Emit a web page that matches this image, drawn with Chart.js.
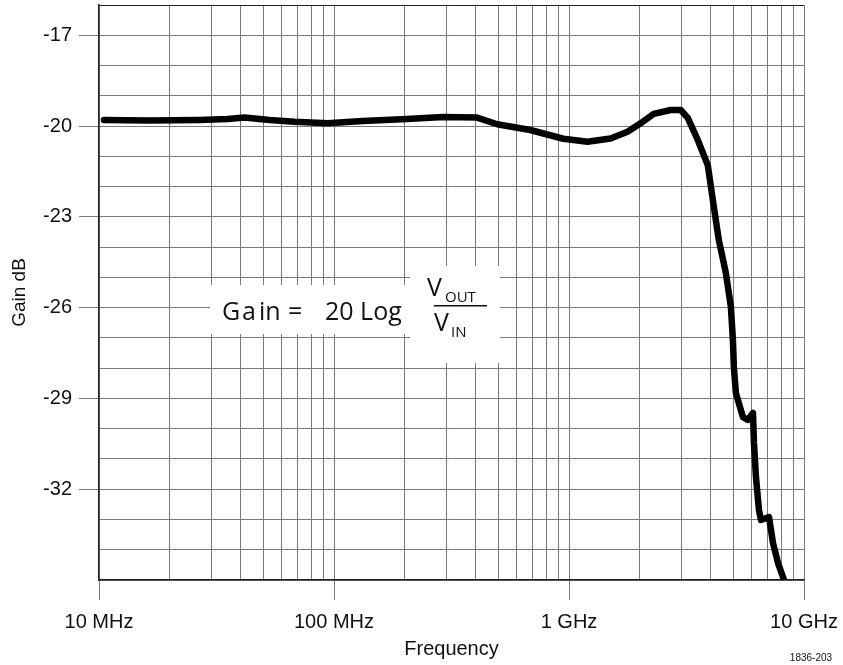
<!DOCTYPE html>
<html>
<head>
<meta charset="utf-8">
<script src="https://cdn.jsdelivr.net/npm/chart.js@4"></script>
<style>
  body { margin: 0; background: #fff; }
</style>
</head>
<body>
<canvas id="myChart" width="843" height="665"></canvas>
<script>
// frequency in MHz, gain in dB
var freqMHz = [10.5, 16.3, 26.7, 35.2, 41.6, 53.2, 68, 94, 132.6, 204, 291, 406, 495, 684, 946, 1198, 1502, 1775, 2017, 2292, 2709, 2989, 3202, 3532, 3897, 4134, 4342, 4651, 4886, 4983, 5030, 5130, 5497, 5774, 6066, 6124, 6246, 6433, 6560, 7096, 7381, 7753, 8226];
var gainDb = [-19.80, -19.82, -19.80, -19.77, -19.72, -19.80, -19.86, -19.91, -19.83, -19.77, -19.70, -19.72, -19.94, -20.13, -20.42, -20.52, -20.41, -20.19, -19.91, -19.60, -19.47, -19.47, -19.73, -20.46, -21.3, -22.67, -23.77, -24.86, -25.98, -27.07, -27.96, -28.82, -29.62, -29.71, -29.48, -30.47, -31.6, -32.69, -33.02, -32.92, -33.78, -34.44, -35.0];

var yLabels = [-17, -20, -23, -26, -29, -32];
var xLabels = {1e7: '10 MHz', 1e8: '100 MHz', 1e9: '1 GHz', 1e10: '10 GHz'};

var points = freqMHz.map(function (f, i) { return {x: f * 1e6, y: gainDb[i]}; });

var tickFont = {family: "'Liberation Sans Narrow', 'Liberation Sans', Arial, sans-serif", size: 20};
var gridGray = '#7a7a7a';

var formula = {
    id: 'formula',
    afterDraw: function (chart) {
        var c = chart.ctx;
        c.save();
        c.fillStyle = '#fff';
        c.fillRect(210, 285, 200, 49);
        c.fillRect(410, 266, 90, 97);
        c.fillStyle = '#111';
        c.textBaseline = 'alphabetic';
        c.font = "25px 'Open Sans', sans-serif";
        c.fillText('G', 222, 320);
        c.fillText('a', 242, 320);
        c.fillText('in', 259, 320);
        c.fillText('=', 288, 320);
        c.fillText('20 Log', 325, 320);
        c.fillText('V', 427, 296);
        c.fillText('V', 434, 331);
        c.font = "15px 'Open Sans', sans-serif";
        c.fillText('OUT', 445, 302);
        c.fillText('IN', 451, 337);
        c.fillRect(434, 305, 53, 1.5);
        c.font = "10px 'Liberation Sans Narrow', 'Liberation Sans', sans-serif";
        c.textAlign = 'center';
        c.fillText('1836-203', 811, 661);
        c.restore();
    }
};

var ctx = document.getElementById('myChart');
var myChart = new Chart(ctx, {
    type: 'line',
    data: {
        datasets: [{
            data: points,
            borderColor: '#000',
            borderWidth: 6.5,
            pointRadius: 0,
            tension: 0,
            borderJoinStyle: 'round',
            borderCapStyle: 'round'
        }]
    },
    plugins: [formula],
    options: {
        responsive: false,
        animation: false,
        layout: {padding: {left: 0, right: 39, top: 5, bottom: 0}},
        plugins: {legend: {display: false}, tooltip: {enabled: false}},
        scales: {
            x: {
                type: 'logarithmic',
                min: 1e7,
                max: 1e10,
                afterBuildTicks: function (s) {
                    var t = [];
                    [1e7, 1e8, 1e9].forEach(function (d) {
                        for (var k = 1; k < 10; k++) t.push({value: d * k});
                    });
                    t.push({value: 1e10});
                    s.ticks = t;
                },
                afterFit: function (s) {
                    s.height = 85;
                    s.paddingLeft = 0; s.paddingRight = 0;
                },
                ticks: {
                    autoSkip: false,
                    maxRotation: 0,
                    padding: 10,
                    color: '#111',
                    font: tickFont,
                    callback: function (v) { return xLabels[v] || ''; }
                },
                grid: {
                    color: gridGray,
                    lineWidth: 1,
                    tickLength: 20,
                    tickColor: function (c) { return xLabels[c.tick.value] ? gridGray : 'rgba(0,0,0,0)'; }
                },
                border: {color: '#222', width: 1.5},
                title: {
                    display: true,
                    text: 'Frequency',
                    color: '#111',
                    font: {family: tickFont.family, size: 20},
                    padding: {top: 0, bottom: 4}
                }
            },
            y: {
                min: -35,
                max: -16,
                afterBuildTicks: function (s) {
                    var t = [];
                    for (var v = -35; v <= -16; v++) t.push({value: v});
                    s.ticks = t;
                },
                afterFit: function (s) {
                    s.width = 99;
                    s.paddingTop = 0; s.paddingBottom = 0;
                },
                ticks: {
                    autoSkip: false,
                    padding: 7,
                    color: '#111',
                    font: tickFont,
                    callback: function (v) { return yLabels.indexOf(v) >= 0 ? String(v) : ''; }
                },
                grid: {
                    color: function (c) { return c.tick && c.tick.value === -16 ? '#222' : gridGray; },
                    lineWidth: 1,
                    tickLength: 20,
                    tickColor: function (c) { return yLabels.indexOf(c.tick.value) >= 0 ? gridGray : 'rgba(0,0,0,0)'; }
                },
                border: {color: '#222', width: 1.5},
                title: {
                    display: true,
                    text: 'Gain dB',
                    color: '#111',
                    font: {family: tickFont.family, size: 19},
                    padding: {top: 8, bottom: 0}
                }
            }
        }
    }
});
</script>
</body>
</html>
